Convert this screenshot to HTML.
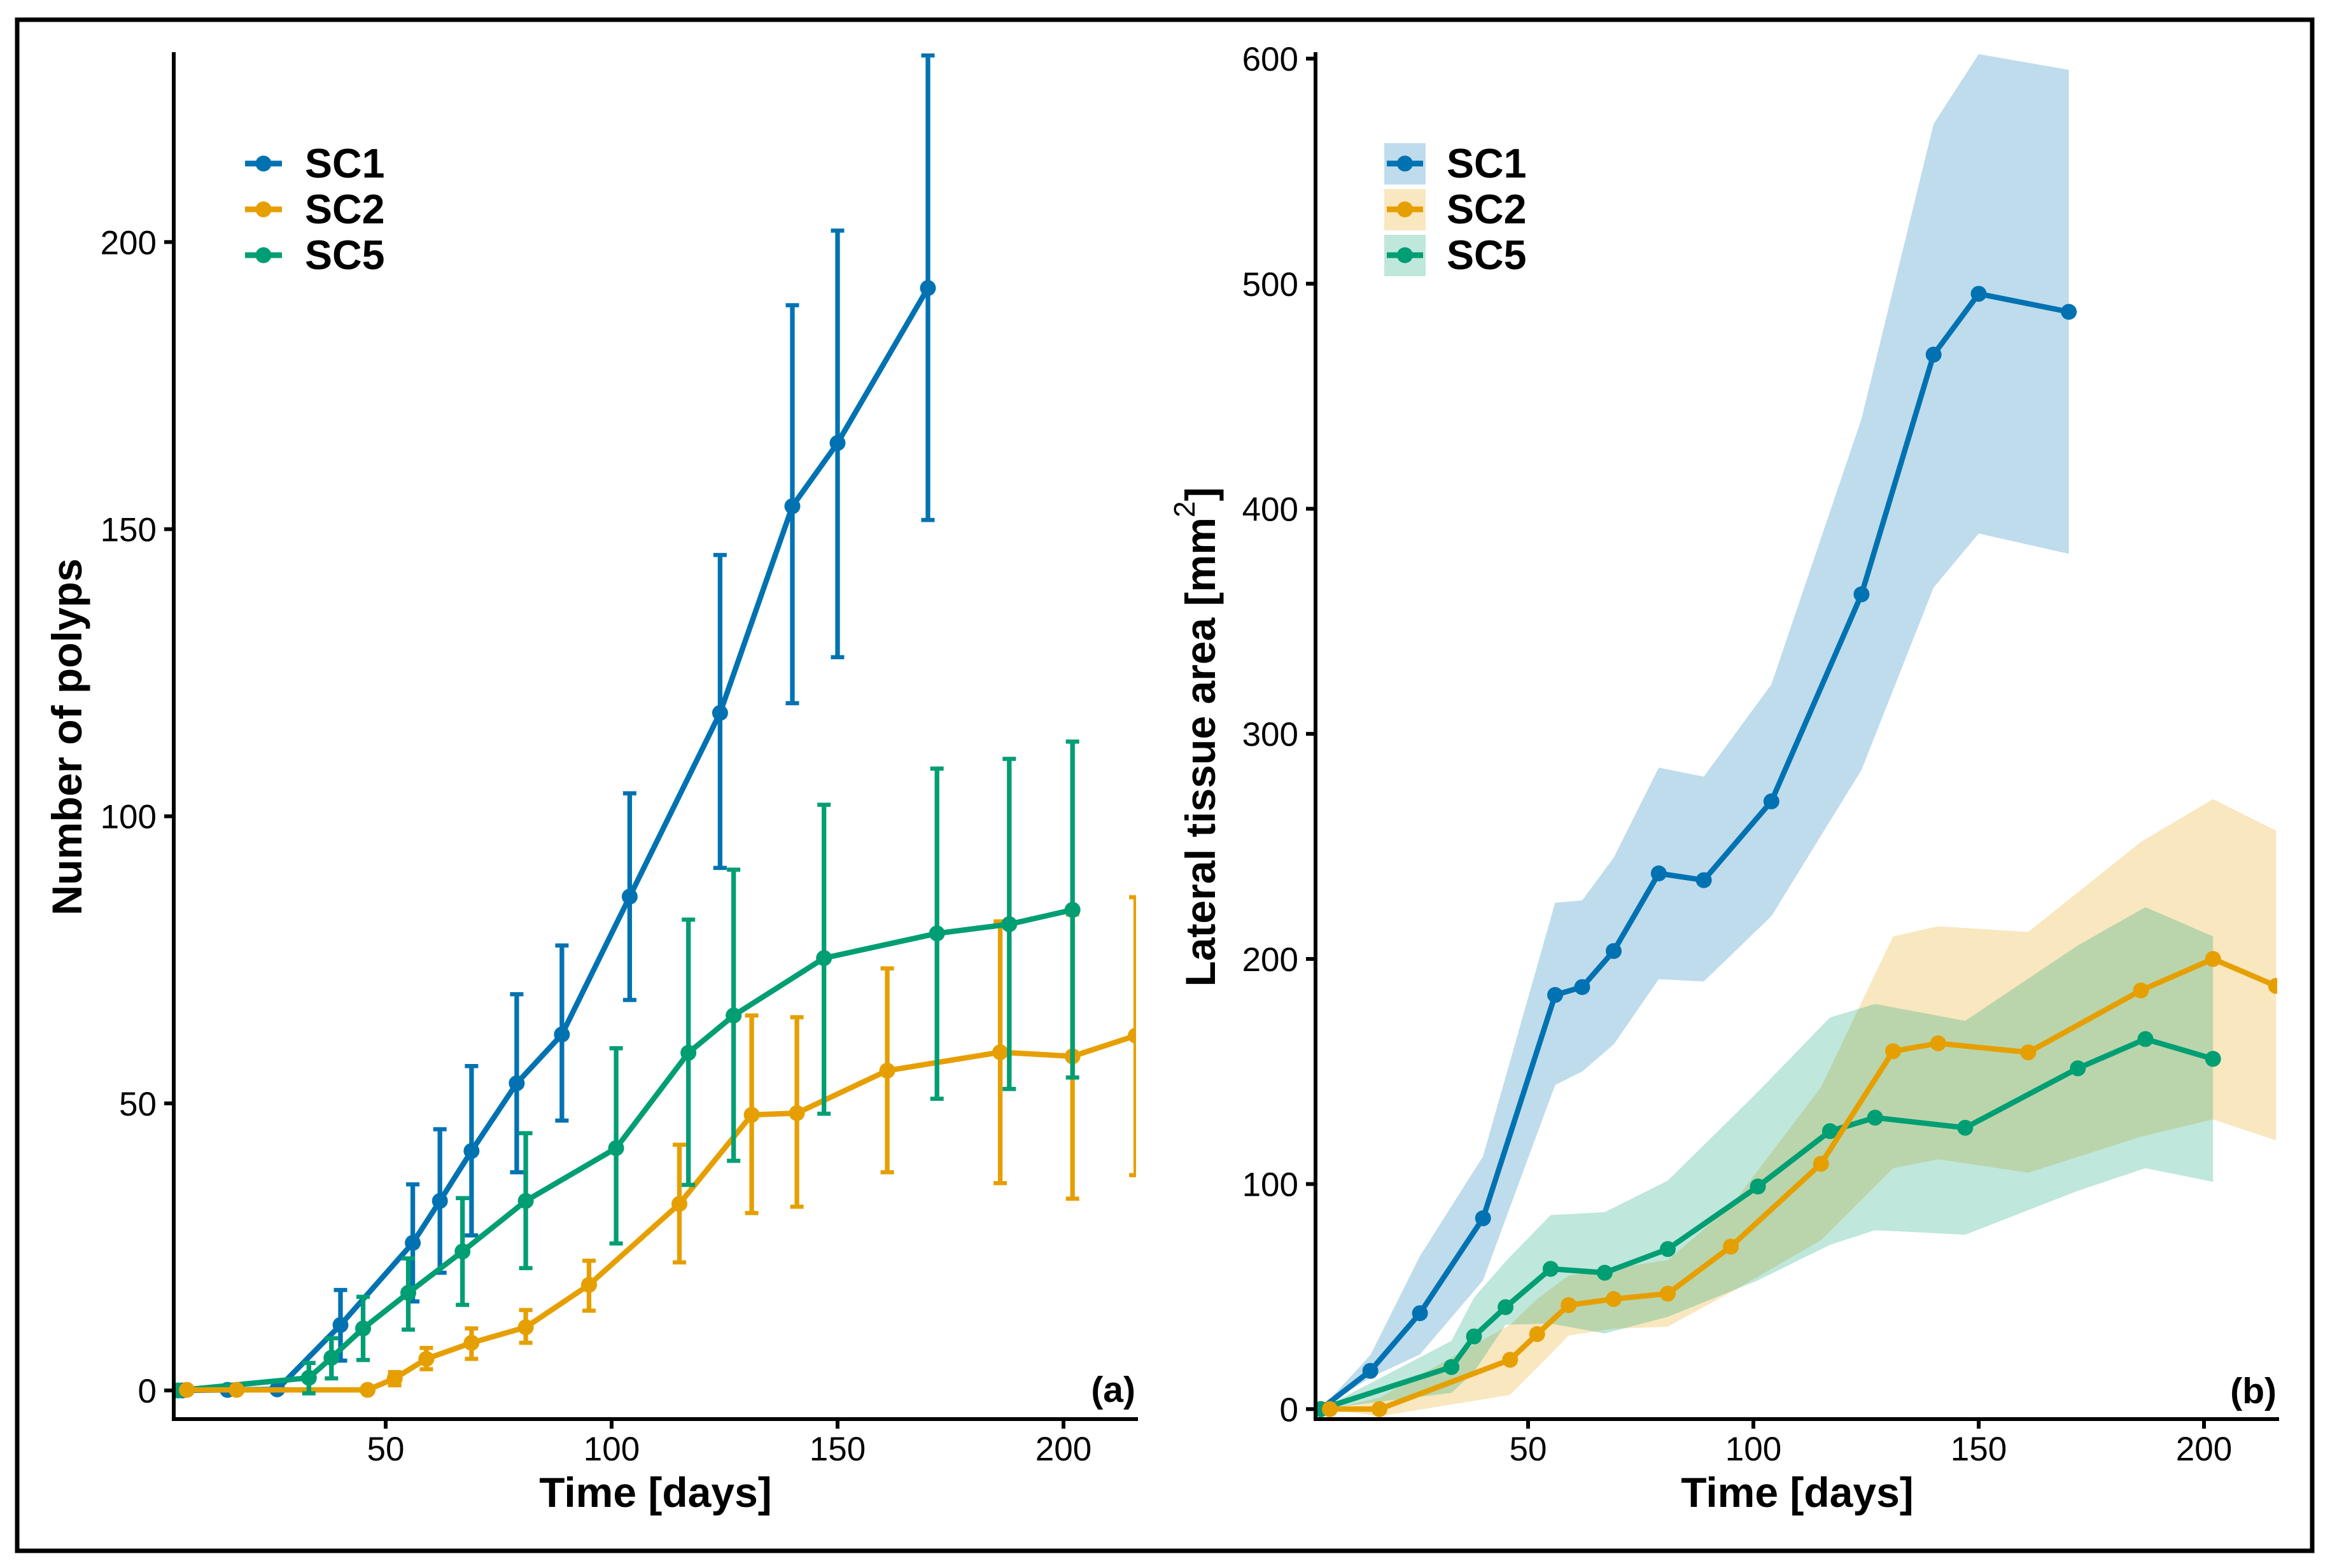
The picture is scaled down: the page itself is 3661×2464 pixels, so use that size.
<!DOCTYPE html>
<html lang="en">
<head>
<meta charset="utf-8">
<title>Polyp number and lateral tissue area over time</title>
<style>
html,body{margin:0;padding:0;background:#fff;}
svg{display:block;}
text{font-family:"Liberation Sans",Arial,sans-serif;fill:#000;}
.tick{font-size:53px;}
.title{font-size:66px;font-weight:bold;}
.leg{font-size:64.5px;font-weight:bold;}
.tag{font-size:57px;font-weight:bold;text-anchor:end;}
</style>
</head>
<body>
<svg id="fig" xmlns="http://www.w3.org/2000/svg" width="3661" height="2464" viewBox="0 0 3661 2464">
  <rect x="0" y="0" width="3661" height="2464" fill="#fff"/>
  <rect x="27" y="31" width="3606" height="2406" fill="none" stroke="#000" stroke-width="7"/>
  <defs>
    <clipPath id="clip-a"><rect x="273" y="84" width="1512" height="2146"/></clipPath>
    <clipPath id="clip-b"><rect x="2067" y="84" width="1511" height="2146"/></clipPath>
  </defs>
  <g id="panel-a"></g>
  <g id="panel-b"></g>

  <text class="title" x="1030" y="2368" text-anchor="middle">Time [days]</text>
  <text class="title" x="2824" y="2368" text-anchor="middle">Time [days]</text>
  <text class="title" transform="translate(128 1158) rotate(-90)" text-anchor="middle">Number of polyps</text>
  <text class="title" transform="translate(1909 1158) rotate(-90)" text-anchor="middle">Lateral tissue area [mm<tspan dy="-32" font-size="46" font-weight="normal">2</tspan><tspan dy="32">]</tspan></text>
  <text class="tag" x="1784" y="2203">(a)</text>
  <text class="tag" x="3577" y="2205">(b)</text>

  <g>
    <g>
      <line x1="385" x2="443" y1="257" y2="257" stroke="#0072B2" stroke-width="9"/><circle cx="414" cy="257" r="12.5" fill="#0072B2"/>
      <text class="leg" x="479" y="279">SC1</text>
    </g>
    <g>
      <line x1="385" x2="443" y1="329" y2="329" stroke="#E69F00" stroke-width="9"/><circle cx="414" cy="329" r="12.5" fill="#E69F00"/>
      <text class="leg" x="479" y="351">SC2</text>
    </g>
    <g>
      <line x1="385" x2="443" y1="401" y2="401" stroke="#009E73" stroke-width="9"/><circle cx="414" cy="401" r="12.5" fill="#009E73"/>
      <text class="leg" x="479" y="423">SC5</text>
    </g>
  </g>
  <g>
    <g>
      <rect x="2175" y="225" width="65" height="65" fill="#0072B2" fill-opacity="0.25"/>
      <line x1="2179" x2="2236" y1="257" y2="257" stroke="#0072B2" stroke-width="9"/><circle cx="2207.500" cy="257" r="12.5" fill="#0072B2"/>
      <text class="leg" x="2273" y="279">SC1</text>
    </g>
    <g>
      <rect x="2175" y="297" width="65" height="65" fill="#E69F00" fill-opacity="0.25"/>
      <line x1="2179" x2="2236" y1="329" y2="329" stroke="#E69F00" stroke-width="9"/><circle cx="2207.500" cy="329" r="12.5" fill="#E69F00"/>
      <text class="leg" x="2273" y="351">SC2</text>
    </g>
    <g>
      <rect x="2175" y="369" width="65" height="65" fill="#009E73" fill-opacity="0.25"/>
      <line x1="2179" x2="2236" y1="401" y2="401" stroke="#009E73" stroke-width="9"/><circle cx="2207.500" cy="401" r="12.5" fill="#009E73"/>
      <text class="leg" x="2273" y="423">SC5</text>
    </g>
  </g>
</svg>
<script>
// ---------- shared tick labels ----------
var xTicks = [50, 100, 150, 200];
var polypTicks = [0, 50, 100, 150, 200];
var areaTicks = [0, 100, 200, 300, 400, 500, 600];

// ---------- panel (a): number of polyps ----------
var polypSC1Days = [5, 15, 26, 40, 56, 62, 69, 79, 89, 104, 124, 140, 150, 170];
var polypSC1Mean = [0, 0.1, 0.2, 11.4, 25.7, 33, 41.7, 53.5, 62, 86, 118, 154, 165, 192];
var polypSC1Up = [0, 0.1, 0.2, 17.5, 35.9, 45.5, 56.5, 69, 77.5, 104, 145.5, 189, 202, 232.5];
var polypSC1Low = [0, 0.1, 0.2, 5.2, 15.5, 20.5, 27, 38, 47, 68, 91, 119.7, 127.7, 151.6];

var polypSC2Days = [6, 17, 46, 52, 59, 69, 81, 95, 115, 131, 141, 161, 186, 202, 216];
var polypSC2Mean = [0.1, 0.1, 0.1, 2.1, 5.5, 8.3, 11, 18.4, 32.5, 48, 48.3, 55.7, 58.9, 58.2, 61.8];
var polypSC2Up = [0.1, 0.1, 0.1, 3.2, 7.4, 10.8, 14, 22.6, 42.8, 65.3, 65, 73.5, 81.7, 82.9, 85.9];
var polypSC2Low = [0.1, 0.1, 0.1, 0.9, 3.7, 5.5, 8.3, 13.9, 22.3, 30.9, 32, 38, 36.1, 33.4, 37.5];

var polypSC5Days = [4, 33, 38, 45, 55, 67, 81, 101, 117, 127, 147, 172, 188, 202];
var polypSC5Mean = [0, 2.2, 5.7, 10.8, 17, 24.2, 33, 42.2, 58.8, 65.3, 75.3, 79.6, 81.2, 83.7];
var polypSC5Up = [0, 4.8, 9.1, 16.3, 23, 33.5, 44.8, 59.6, 82, 90.7, 102, 108.3, 110, 113];
var polypSC5Low = [0, -0.5, 2.1, 5.3, 10.6, 14.9, 21.3, 25.6, 35.8, 40, 48.2, 50.8, 52.5, 54.5];

// ---------- panel (b): lateral tissue area ----------
var areaSC1Days = [4, 15, 26, 40, 56, 62, 69, 79, 89, 104, 124, 140, 150, 170];
var areaSC1Mean = [0, 17, 42.6, 84.8, 184, 187.5, 203.5, 238, 235, 270, 362, 468.5, 495.5, 487.5];
var areaSC1Up = [0, 24, 68, 112.3, 225, 226, 245, 285, 281, 322, 440, 571, 602, 595];
var areaSC1Low = [0, 14, 24.3, 57.2, 144, 150, 162, 191, 190, 219, 284, 365, 389, 380];

var areaSC2Days = [6, 17, 46, 52, 59, 69, 81, 95, 115, 131, 141, 161, 186, 202, 216];
var areaSC2Mean = [0, 0, 21.9, 33.3, 46.2, 48.9, 51.3, 72.2, 109, 159, 162.5, 158.5, 186, 200, 188];
var areaSC2Up = [0, 5, 37.5, 48.9, 59.3, 62.6, 66.2, 90.2, 143, 210, 214.5, 212, 252, 271, 257];
var areaSC2Low = [0, -3.2, 6.3, 18.3, 32.7, 35.7, 36.6, 51.9, 75, 107, 111, 105, 121, 128.7, 119.4];

var areaSC5Days = [4, 33, 38, 45, 55, 67, 81, 101, 117, 127, 147, 172, 187, 202];
var areaSC5Mean = [0, 18.7, 32.3, 45.3, 62.3, 60.6, 71.1, 98.9, 123.5, 129.5, 125, 151.4, 164.4, 155.6];
var areaSC5Up = [0, 30.3, 49.5, 65.6, 86.2, 87.5, 101.5, 141, 174, 180, 172.5, 206, 223, 210];
var areaSC5Low = [0, 7.2, 16.5, 37.5, 38, 33.6, 41, 57.2, 73, 79.5, 77.5, 97, 107, 101];

// ---------- axis functions ----------
function xA(d) { return 606 + (d - 50) * 7.1; }
function yA(v) { return 2185 - v * 9.023; }
function xB(d) { return 2401 + (d - 50) * 7.08; }
function yB(v) { return 2214.3 - v * 3.537; }

var NS = 'http://www.w3.org/2000/svg';
var BLUE = '#0072B2', ORANGE = '#E69F00', GREEN = '#009E73';

function make(parent, tag, attrs) {
  var el = document.createElementNS(NS, tag);
  for (var k in attrs) { el.setAttribute(k, attrs[k]); }
  parent.appendChild(el);
  return el;
}

function drawSeries(parent, key, color, days, mean, xf, yf) {
  var pts = [];
  for (var i = 0; i < days.length; i++) { pts.push(xf(days[i]).toFixed(1) + ',' + yf(mean[i]).toFixed(1)); }
  var line = make(parent, 'polyline', { points: pts.join(' '), fill: 'none', stroke: color, 'stroke-width': 8.5, 'stroke-linejoin': 'round' });
  
  
  for (var j = 0; j < days.length; j++) {
    var c = make(parent, 'circle', { cx: xf(days[j]).toFixed(1), cy: yf(mean[j]).toFixed(1), r: 12.5, fill: color });
    
    
  }
}

function drawErrors(parent, key, color, days, up, low, xf, yf) {
  for (var i = 0; i < days.length; i++) {
    if (up[i] === low[i]) { continue; }
    var g = make(parent, 'g', {});
    
    
    var x = xf(days[i]), yu = yf(up[i]), yl = yf(low[i]);
    make(g, 'line', { x1: x, x2: x, y1: yu, y2: yl, stroke: color, 'stroke-width': 7.3 });
    make(g, 'line', { x1: x - 10.5, x2: x + 10.5, y1: yu, y2: yu, stroke: color, 'stroke-width': 6.5 });
    make(g, 'line', { x1: x - 10.5, x2: x + 10.5, y1: yl, y2: yl, stroke: color, 'stroke-width': 6.5 });
  }
}

function drawBand(parent, key, color, days, up, low, xf, yf) {
  var pts = [];
  for (var i = 0; i < days.length; i++) { pts.push(xf(days[i]).toFixed(1) + ',' + yf(up[i]).toFixed(1)); }
  for (var j = days.length - 1; j >= 0; j--) { pts.push(xf(days[j]).toFixed(1) + ',' + yf(low[j]).toFixed(1)); }
  var b = make(parent, 'polygon', { points: pts.join(' '), fill: color, 'fill-opacity': 0.25, stroke: 'none' });
  
  
}

function drawAxes(parent, key, axisX, axisEnd, xf, yf, yTicks) {
  var yAxis = make(parent, 'line', { x1: axisX, x2: axisX, y1: 82, y2: 2233, stroke: '#000', 'stroke-width': 6 });
  
  
  var xAxis = make(parent, 'line', { x1: axisX - 3, x2: axisEnd, y1: 2230, y2: 2230, stroke: '#000', 'stroke-width': 6 });
  
  
  for (var i = 0; i < xTicks.length; i++) {
    var tx = xf(xTicks[i]);
    var t = make(parent, 'line', { x1: tx, x2: tx, y1: 2230, y2: 2245, stroke: '#000', 'stroke-width': 6 });
    
    
    var l = make(parent, 'text', { x: tx, y: 2295, 'class': 'tick', 'text-anchor': 'middle' });
    l.textContent = String(xTicks[i]);
    
    
  }
  for (var j = 0; j < yTicks.length; j++) {
    var ty = yf(yTicks[j]);
    var yt = make(parent, 'line', { x1: axisX - 15, x2: axisX, y1: ty, y2: ty, stroke: '#000', 'stroke-width': 6 });
    
    
    var yl = make(parent, 'text', { x: axisX - 27, y: ty + 19, 'class': 'tick', 'text-anchor': 'end' });
    yl.textContent = String(yTicks[j]);
    
    
  }
}

// ---------- render panel (a) ----------
var gA = document.getElementById('panel-a');
var marksA = make(gA, 'g', { 'clip-path': 'url(#clip-a)' });


drawErrors(marksA, 'polyps-sc1', BLUE, polypSC1Days, polypSC1Up, polypSC1Low, xA, yA);
drawSeries(marksA, 'polyps-sc1', BLUE, polypSC1Days, polypSC1Mean, xA, yA);
drawErrors(marksA, 'polyps-sc2', ORANGE, polypSC2Days, polypSC2Up, polypSC2Low, xA, yA);
drawSeries(marksA, 'polyps-sc5', GREEN, polypSC5Days, polypSC5Mean, xA, yA);
drawSeries(marksA, 'polyps-sc2', ORANGE, polypSC2Days, polypSC2Mean, xA, yA);
drawErrors(marksA, 'polyps-sc5', GREEN, polypSC5Days, polypSC5Up, polypSC5Low, xA, yA);
drawAxes(gA, 'polyps', 273, 1788, xA, yA, polypTicks);

// ---------- render panel (b) ----------
var gB = document.getElementById('panel-b');
var marksB = make(gB, 'g', { 'clip-path': 'url(#clip-b)' });


drawBand(marksB, 'area-sc1', BLUE, areaSC1Days, areaSC1Up, areaSC1Low, xB, yB);
drawBand(marksB, 'area-sc2', ORANGE, areaSC2Days, areaSC2Up, areaSC2Low, xB, yB);
drawBand(marksB, 'area-sc5', GREEN, areaSC5Days, areaSC5Up, areaSC5Low, xB, yB);
drawSeries(marksB, 'area-sc1', BLUE, areaSC1Days, areaSC1Mean, xB, yB);
drawSeries(marksB, 'area-sc5', GREEN, areaSC5Days, areaSC5Mean, xB, yB);
drawSeries(marksB, 'area-sc2', ORANGE, areaSC2Days, areaSC2Mean, xB, yB);
drawAxes(gB, 'area', 2067, 3581, xB, yB, areaTicks);
</script>
</body>
</html>
